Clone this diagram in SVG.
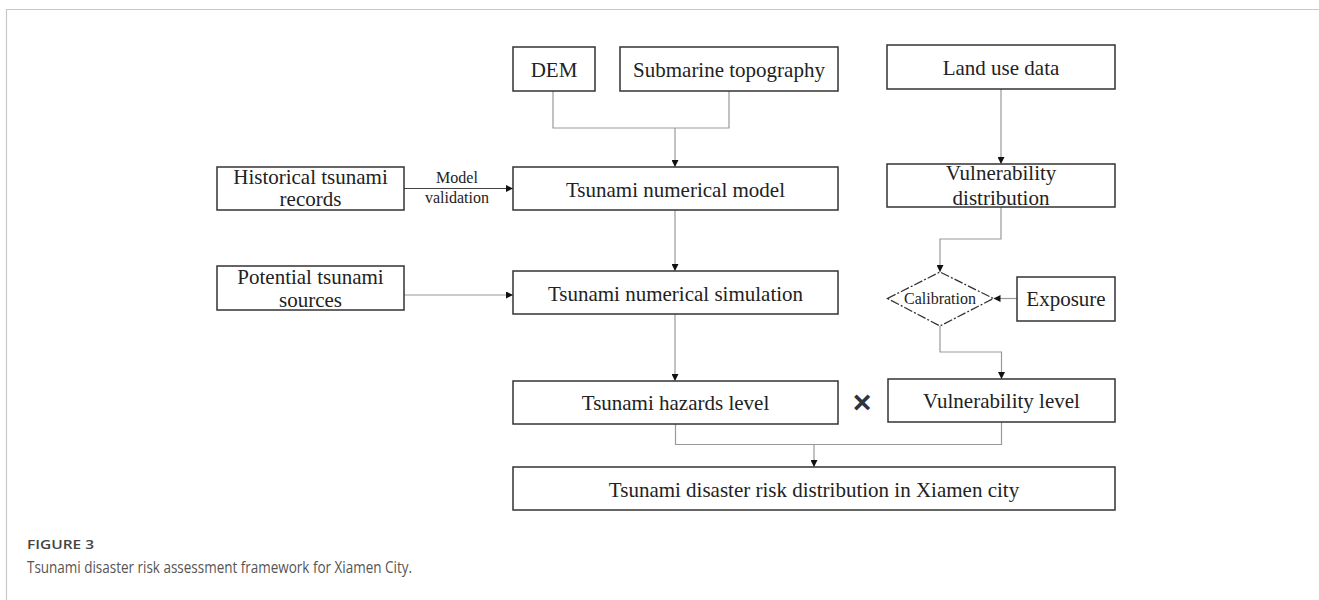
<svg xmlns="http://www.w3.org/2000/svg" width="1319" height="600" viewBox="0 0 1319 600">
<defs>
<marker id="ah" viewBox="0 0 10 10" refX="10" refY="5" markerWidth="7" markerHeight="7" markerUnits="userSpaceOnUse" orient="auto">
<path d="M0,0 L10,5 L0,10 z" fill="#111"/>
</marker>
</defs>
<style>
.box{fill:#fff;stroke:#333;stroke-width:1.5}
.t{font-family:"Liberation Serif","Times New Roman",serif;font-size:21px;fill:#222;text-anchor:middle}
.s{font-family:"Liberation Serif","Times New Roman",serif;font-size:16px;fill:#222;text-anchor:middle}
.c{fill:none;stroke:#999;stroke-width:1.2}
.frame{fill:none;stroke:#c8c8c8;stroke-width:1.2}
</style>
<rect width="1319" height="600" fill="#fff"/>
<path class="frame" d="M6.5,600 V9.5 H1319"/>

<g id="connectors">
<path class="c" d="M553,91 V128 H729 V91"/>
<path class="c" d="M675,128 V167" marker-end="url(#ah)"/>
<path class="c" d="M404,188.5 H513" marker-end="url(#ah)" style="stroke:#444"/>
<path class="c" d="M675,210 V271" marker-end="url(#ah)"/>
<path class="c" d="M404,295 H513" marker-end="url(#ah)"/>
<path class="c" d="M675,314 V381" marker-end="url(#ah)"/>
<path class="c" d="M1001,89 V164" marker-end="url(#ah)"/>
<path class="c" d="M1001,207 V239 H940 V272" marker-end="url(#ah)"/>
<path class="c" d="M1017,298.5 H993.5" marker-end="url(#ah)"/>
<path class="c" d="M940,326 V352 H1001.5 V379" marker-end="url(#ah)"/>
<path class="c" d="M675.5,424 V444.5 H1001.5 V422"/>
<path class="c" d="M814,444.5 V467" marker-end="url(#ah)"/>
</g>

<g id="dem"><rect class="box" x="513" y="47" width="82" height="44"/><text class="t" x="554" y="76.5">DEM</text></g>
<g id="submarine"><rect class="box" x="620" y="47" width="218" height="44"/><text class="t" x="729" y="76.5">Submarine topography</text></g>
<g id="landuse"><rect class="box" x="887" y="45" width="228" height="44"/><text class="t" x="1001" y="74.5">Land use data</text></g>

<g id="historical"><rect class="box" x="217" y="167" width="187" height="43"/><text class="t" x="310.5" y="184">Historical tsunami</text><text class="t" x="310.5" y="206">records</text></g>
<g id="validation-label"><text class="s" x="457" y="183">Model</text><text class="s" x="457" y="203">validation</text></g>
<g id="model"><rect class="box" x="513" y="167" width="325" height="43"/><text class="t" x="675.5" y="196.5">Tsunami numerical model</text></g>
<g id="vuldist"><rect class="box" x="887" y="164" width="228" height="43"/><text class="t" x="1001" y="180">Vulnerability</text><text class="t" x="1001" y="205">distribution</text></g>

<g id="potential"><rect class="box" x="217" y="266" width="187" height="44"/><text class="t" x="310.5" y="283.5">Potential tsunami</text><text class="t" x="310.5" y="306.5">sources</text></g>
<g id="simulation"><rect class="box" x="513" y="271" width="325" height="43"/><text class="t" x="675.5" y="300.5">Tsunami numerical simulation</text></g>
<g id="calibration"><path d="M887.5,298.5 L940,272 L993.5,298.5 L940,326 Z" fill="#fff" stroke="#333" stroke-width="1.3" stroke-dasharray="9,2,2,2"/><text class="s" x="940" y="304">Calibration</text></g>
<g id="exposure"><rect class="box" x="1017" y="277" width="98" height="44"/><text class="t" x="1066" y="306">Exposure</text></g>

<g id="hazards"><rect class="box" x="513" y="381" width="325" height="43"/><text class="t" x="675.5" y="410">Tsunami hazards level</text></g>
<g id="times"><text x="862" y="413" font-family="Liberation Sans, Arial, sans-serif" font-weight="bold" font-size="32" fill="#333" text-anchor="middle">×</text></g>
<g id="vullevel"><rect class="box" x="888" y="379" width="227" height="43"/><text class="t" x="1001.5" y="408">Vulnerability level</text></g>

<g id="risk"><rect class="box" x="513" y="467" width="602" height="43"/><text class="t" x="814" y="497">Tsunami disaster risk distribution in Xiamen city</text></g>

<g id="caption">
<text x="27" y="549" font-family="Open Sans, Liberation Sans, sans-serif" font-size="12" font-weight="600" fill="#444" textLength="67" lengthAdjust="spacingAndGlyphs">FIGURE 3</text>
<text x="27" y="573" font-family="Open Sans, Liberation Sans, sans-serif" font-size="16" fill="#555" textLength="385" lengthAdjust="spacingAndGlyphs">Tsunami disaster risk assessment framework for Xiamen City.</text>
</g>
</svg>
